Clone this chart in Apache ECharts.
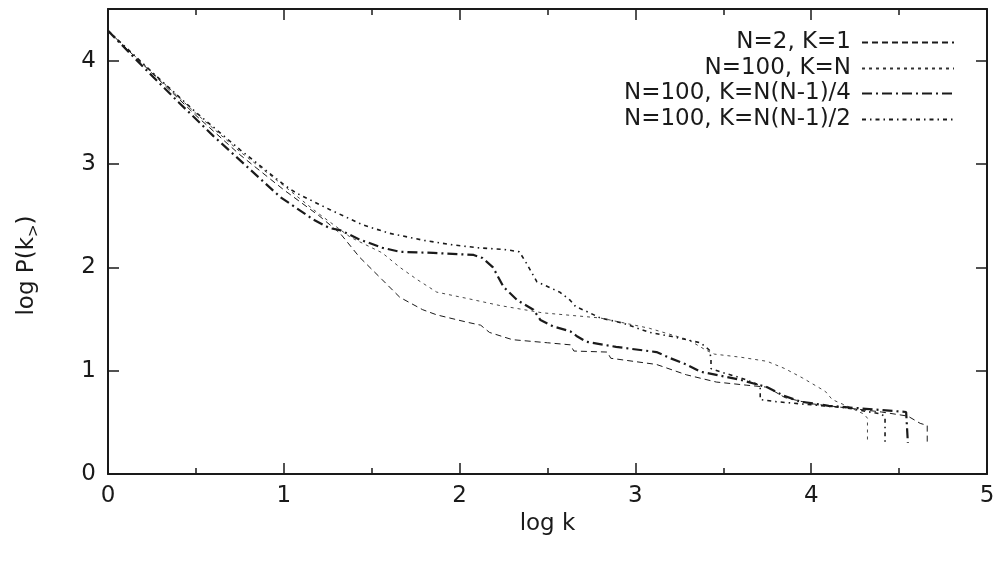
<!DOCTYPE html>
<html>
<head>
<meta charset="utf-8">
<script src="https://cdn.jsdelivr.net/npm/echarts@6/dist/echarts.min.js"></script>
<style>
  html, body { margin: 0; padding: 0; background: #fff; }
  #chart { width: 1001px; height: 563px; }
</style>
</head>
<body>
<div id="chart"></div>
<script>
// curve points: [log k, log P(k>)]
const n2k1 = [[0,4.29],[0.25,3.88],[0.5,3.47],[0.75,3.09],[1.0,2.75],[1.2,2.5],[1.32,2.33],[1.43,2.1],[1.56,1.88],[1.66,1.71],[1.79,1.59],[1.87,1.54],[2.04,1.47],[2.12,1.44],[2.17,1.37],[2.3,1.3],[2.5,1.27],[2.63,1.25],[2.65,1.19],[2.84,1.18],[2.86,1.12],[3.12,1.06],[3.29,0.96],[3.46,0.89],[3.63,0.86],[3.75,0.84],[3.85,0.74],[4.0,0.68],[4.2,0.64],[4.4,0.6],[4.55,0.56],[4.62,0.49],[4.66,0.47],[4.66,0.3]];
const n100kN = [[0,4.29],[0.25,3.89],[0.5,3.49],[0.75,3.12],[1.0,2.79],[1.19,2.53],[1.38,2.29],[1.56,2.14],[1.66,2.0],[1.76,1.88],[1.87,1.76],[2.04,1.7],[2.23,1.63],[2.47,1.56],[2.8,1.51],[3.08,1.41],[3.3,1.3],[3.4,1.2],[3.45,1.16],[3.6,1.13],[3.75,1.09],[3.85,1.02],[3.95,0.93],[4.08,0.8],[4.12,0.72],[4.2,0.66],[4.3,0.58],[4.32,0.54],[4.32,0.3]];
const n100kQuarter = [[0,4.29],[0.2,3.94],[0.4,3.6],[0.6,3.27],[0.8,2.96],[0.98,2.68],[1.17,2.46],[1.26,2.38],[1.32,2.36],[1.43,2.27],[1.56,2.19],[1.66,2.15],[1.85,2.14],[2.08,2.12],[2.13,2.09],[2.19,2.0],[2.25,1.81],[2.33,1.68],[2.42,1.59],[2.46,1.49],[2.53,1.43],[2.63,1.38],[2.67,1.33],[2.72,1.28],[2.89,1.23],[3.12,1.18],[3.2,1.12],[3.29,1.06],[3.37,0.99],[3.46,0.96],[3.6,0.91],[3.75,0.84],[3.84,0.76],[3.94,0.7],[4.1,0.66],[4.39,0.62],[4.54,0.6],[4.55,0.3]];
const n100kHalf = [[0,4.29],[0.25,3.89],[0.5,3.5],[0.75,3.14],[1.0,2.8],[1.07,2.72],[1.26,2.56],[1.45,2.41],[1.6,2.33],[1.8,2.26],[1.95,2.22],[2.1,2.19],[2.27,2.17],[2.34,2.15],[2.38,2.04],[2.44,1.86],[2.57,1.76],[2.63,1.68],[2.66,1.62],[2.74,1.56],[2.8,1.51],[2.93,1.46],[3.08,1.37],[3.21,1.33],[3.37,1.27],[3.42,1.2],[3.43,1.12],[3.43,1.02],[3.5,0.98],[3.6,0.93],[3.69,0.87],[3.71,0.84],[3.71,0.72],[3.8,0.7],[4.0,0.67],[4.2,0.64],[4.4,0.58],[4.42,0.55],[4.42,0.3]];

const names = ['N=2, K=1', 'N=100, K=N', 'N=100, K=N(N-1)/4', 'N=100, K=N(N-1)/2'];

const font = 'DejaVu Sans';
const ink = '#1a1a1a';

const styles = [
  { width: 1, type: [6, 4], color: ink },
  { width: 0.9, type: [3, 4], color: '#333' },
  { width: 2.2, type: [10, 4, 2, 4], color: ink },
  { width: 1.6, type: [4, 4, 1.5, 4], color: ink }
];
const allData = [n2k1, n100kN, n100kQuarter, n100kHalf];

const series = names.map((name, i) => ({
  name: name,
  type: 'line',
  data: allData[i],
  symbol: 'none',
  showSymbol: false,
  xAxisIndex: 0,
  yAxisIndex: 0,
  lineStyle: styles[i],
  itemStyle: { color: styles[i].color },
  emphasis: { disabled: true },
  animation: false
}));

const legendTops = [31, 57, 82, 108];
const legends = names.map((name, i) => ({
  data: [name],
  right: 46,
  top: legendTops[i],
  padding: 0,
  align: 'right',
  itemWidth: 92,
  itemHeight: 14,
  itemStyle: { opacity: 0 },
  selectedMode: false,
  textStyle: { fontFamily: font, fontSize: 23, color: ink, padding: [0, 6, 0, 0] }
}));

const baseX = {
  type: 'value', min: 0, max: 5, interval: 1,
  axisLine: { show: true, onZero: false, lineStyle: { color: ink, width: 2 } },
  axisTick: { show: true, inside: true, length: 11, lineStyle: { color: ink, width: 1.5 } },
  minorTick: { show: true, splitNumber: 2, length: 6, lineStyle: { color: ink, width: 1.5 } },
  splitLine: { show: false }
};
const baseY = {
  type: 'value', min: 0, max: 4.5, interval: 1,
  axisLine: { show: true, onZero: false, lineStyle: { color: ink, width: 2 } },
  axisTick: { show: true, inside: true, length: 11, lineStyle: { color: ink, width: 1.5 } },
  splitLine: { show: false }
};

const chart = echarts.init(document.getElementById('chart'));
chart.setOption({
  backgroundColor: '#fff',
  animation: false,
  grid: { left: 108, right: 14, top: 9, bottom: 89 },
  legend: legends,
  xAxis: [
    Object.assign({}, baseX, {
      position: 'bottom',
      name: 'log k', nameLocation: 'middle', nameGap: 39,
      nameTextStyle: { fontFamily: font, fontSize: 23, color: ink },
      axisLabel: { fontFamily: font, fontSize: 23, color: ink, margin: 11, showMaxLabel: true }
    }),
    Object.assign({}, baseX, { position: 'top', axisLabel: { show: false } })
  ],
  yAxis: [
    Object.assign({}, baseY, {
      position: 'left',
      name: '{m|log P(k}{s|>}{m|)}', nameLocation: 'middle', nameGap: 66,
      nameTextStyle: {
        fontFamily: font, fontSize: 23, color: ink,
        padding: [0, 48, 0, 0],
        rich: {
          m: { fontFamily: font, fontSize: 23, color: ink, lineHeight: 30 },
          s: { fontFamily: font, fontSize: 15, color: ink, verticalAlign: 'bottom', lineHeight: 22, padding: [8, 0, 0, 0] }
        }
      },
      axisLabel: { fontFamily: font, fontSize: 23, color: ink, margin: 12, showMaxLabel: false }
    }),
    Object.assign({}, baseY, { position: 'right', axisLabel: { show: false } })
  ],
  series: series
});
</script>
</body>
</html>
